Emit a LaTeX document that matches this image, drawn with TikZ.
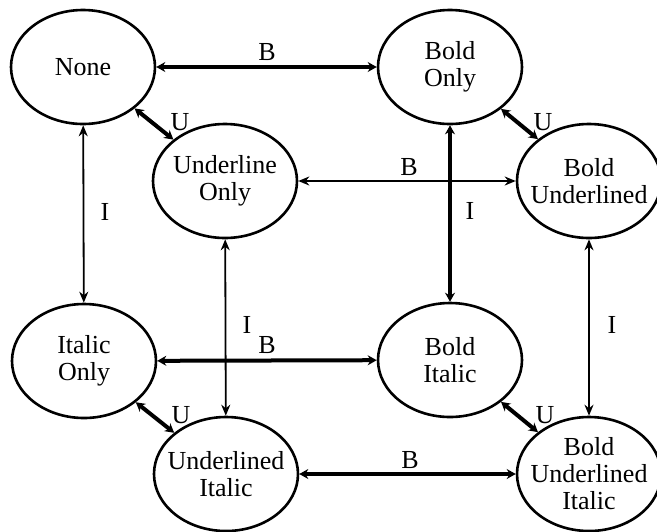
\documentclass[tikz,border=0pt]{standalone}
\usepackage{fontspec}
\setmainfont{Liberation Serif}
\usetikzlibrary{shapes.geometric,arrows.meta}
\begin{document}
\begin{tikzpicture}[x=0.5pt,y=-0.5pt,
  state/.style={draw, ellipse, line width=1.3pt, minimum width=72pt, minimum height=57pt,
    inner sep=0pt},
  txt/.style={align=center, inner sep=0pt, font=\fontsize{13}{13.5}\selectfont},
  strong/.style={line width=2pt, {Stealth[length=4.5pt,width=5pt]}-{Stealth[length=4.5pt,width=5pt]}},
  weak/.style={line width=0.9pt, {Stealth[length=5.5pt,width=4.5pt]}-{Stealth[length=5.5pt,width=4.5pt]}},
  lbl/.style={font=\fontsize{13}{13}\selectfont, inner sep=0pt}]
\useasboundingbox (0,0) rectangle (657,531);

% states (outline)
\node[state] (none) at (83,67) {};
\node[state] (bo)   at (450,67) {};
\node[state] (uo)   at (225,181) {};
\node[state] (bu)   at (589,181) {};
\node[state] (io)   at (84,361) {};
\node[state] (bi)   at (450,360) {};
\node[state] (ui)   at (226,474) {};
\node[state] (bui)  at (589,474) {};

% state names
\node[txt] (none-t) at (none) {None};
\node[txt] (bo-t)   at (bo)   {Bold\\Only};
\node[txt] (uo-t)   at (uo)   {Underline\\Only};
\node[txt] (bu-t)   at (bu)   {Bold\\Underlined};
\node[txt] (io-t)   at (io)   {Italic\\Only};
\node[txt] (bi-t)   at (bi)   {Bold\\Italic};
\node[txt] (ui-t)   at (ui)   {Underlined\\Italic};
\node[txt] (bui-t)  at (bui)  {Bold\\Underlined\\Italic};

% transitions: bold toggles
\draw[strong] (none) -- (bo);
\draw[weak]   (uo) -- (bu);
\draw[strong] (io) -- (bi);
\draw[strong] (ui) -- (bui);

% transitions: underline toggles
\draw[strong] (none) -- (uo);
\draw[strong] (bo) -- (bu);
\draw[strong] (io) -- (ui);
\draw[strong] (bi) -- (bui);

% transitions: italic toggles
\draw[weak]   (none) -- (io);
\draw[weak]   (uo) -- (ui);
\draw[strong] (bo) -- (bi);
\draw[weak]   (bu) -- (bui);

% labels
\node[lbl] (lb1) at (267,52) {B};
\node[lbl] (lb2) at (409,167) {B};
\node[lbl] (lb3) at (267,345) {B};
\node[lbl] (lb4) at (410,460) {B};
\node[lbl] (lu1) at (180,122) {U};
\node[lbl] (lu2) at (543,122) {U};
\node[lbl] (lu3) at (181,415) {U};
\node[lbl] (lu4) at (545,415) {U};
\node[lbl] (li1) at (105,212) {I};
\node[lbl] (li2) at (470,211) {I};
\node[lbl] (li3) at (247,325) {I};
\node[lbl] (li4) at (612,325) {I};
\end{tikzpicture}
\end{document}
